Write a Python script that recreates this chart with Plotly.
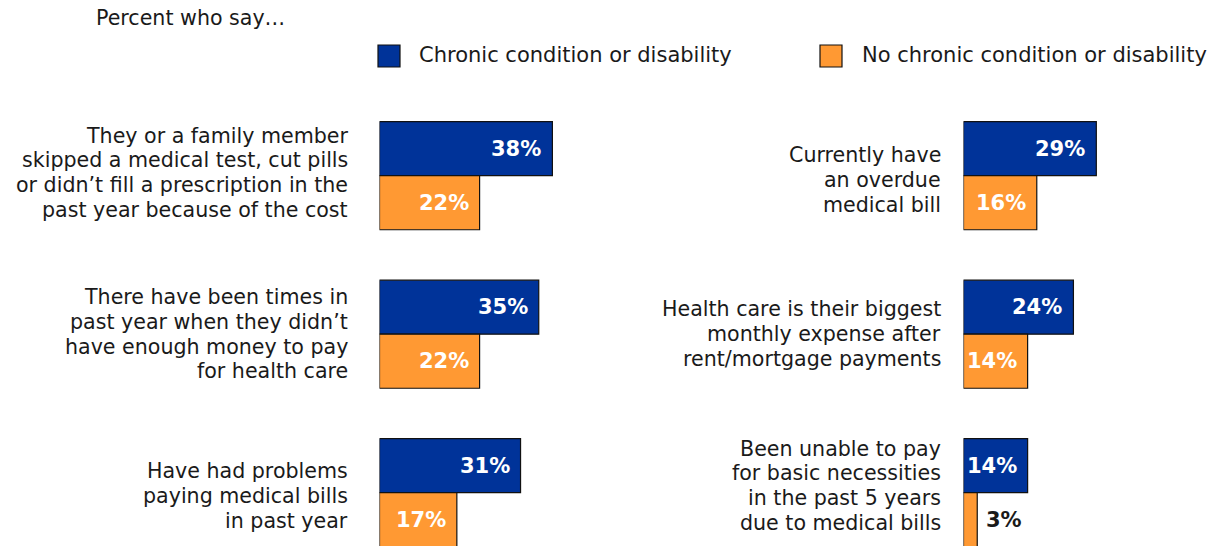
import plotly.graph_objects as go

W, H = 1213, 546

# ---- data -------------------------------------------------------------
series_names = ["Chronic condition or disability", "No chronic condition or disability"]
series_colors = ["#003399", "#FF9933"]

left_labels = [
    "They or a family member\nskipped a medical test, cut pills\nor didn’t fill a prescription in the\npast year because of the cost",
    "There have been times in\npast year when they didn’t\nhave enough money to pay\nfor health care",
    "Have had problems\npaying medical bills\nin past year",
]
left_chronic = [38, 35, 31]
left_none = [22, 22, 17]

right_labels = [
    "Currently have\nan overdue\nmedical bill",
    "Health care is their biggest\nmonthly expense after\nrent/mortgage payments",
    "Been unable to pay\nfor basic necessities\nin the past 5 years\ndue to medical bills",
]
right_chronic = [29, 24, 14]
right_none = [16, 14, 3]

subtitle = "Percent who say…"

# ---- geometry / style -------------------------------------------------
FONT = "DejaVu Sans"
TEXT_COLOR = "#1a1a1a"
BAR_W = 0.341
GROUP_PX = 158.5
FIRST_CENTER_PX = 175.7
LINE_PX = 24.8
LABEL_SIZE = 20.6
VALUE_SIZE = 21

# small vertical nudges (px, positive = down) for each label block
left_label_nudge = [-3, 0, 3]
right_label_nudge = [4, 0, -7]


def px_x(p):
    return p / W


def px_y(p):
    return 1 - p / H


rows = list(range(len(left_labels)))

fig = go.Figure()

panels = [
    ("x", left_chronic, left_none),
    ("x2", right_chronic, right_none),
]
for xa, chronic, none in panels:
    for vals, name, color, offset in [
        (chronic, series_names[0], series_colors[0], -BAR_W),
        (none, series_names[1], series_colors[1], 0.0),
    ]:
        fig.add_trace(go.Bar(
            x=vals, y=rows, orientation="h", name=name,
            xaxis=xa, yaxis="y",
            width=BAR_W, offset=offset,
            marker=dict(color=color, line=dict(color="#111111", width=1.2)),
            showlegend=False, hoverinfo="skip",
        ))

annotations = []

# value labels
for xa, chronic, none in panels:
    for vals, dy in [(chronic, -BAR_W / 2), (none, BAR_W / 2)]:
        for i, v in enumerate(vals):
            inside = v >= 8
            annotations.append(dict(
                x=v, y=i + dy, xref=xa, yref="y",
                text=f"<b>{v}%</b>",
                showarrow=False,
                xanchor="right" if inside else "left",
                xshift=-9 if inside else 7,
                yanchor="middle",
                font=dict(family=FONT, size=VALUE_SIZE,
                          color="white" if inside else TEXT_COLOR),
            ))

# category labels, one annotation per line for tight line spacing
for labels, nudges, right_edge in [(left_labels, left_label_nudge, 350),
                                   (right_labels, right_label_nudge, 943)]:
    for i, (lab, nudge) in enumerate(zip(labels, nudges)):
        lines = lab.split("\n")
        n = len(lines)
        for k, line in enumerate(lines):
            annotations.append(dict(
                x=px_x(right_edge), y=i, xref="paper", yref="y",
                text=line, showarrow=False, align="right",
                xanchor="right", yanchor="middle",
                yshift=-((k - (n - 1) / 2) * LINE_PX + nudge),
                font=dict(family=FONT, size=LABEL_SIZE, color=TEXT_COLOR),
            ))

# subtitle
annotations.append(dict(
    x=px_x(94), y=px_y(18), xref="paper", yref="paper",
    text=subtitle, showarrow=False, xanchor="left", yanchor="middle",
    font=dict(family=FONT, size=20.6, color=TEXT_COLOR),
))

# legend built from swatches + labels
shapes = []
for name, color, sx, tx in [
    (series_names[0], series_colors[0], 378, 417),
    (series_names[1], series_colors[1], 820, 860),
]:
    shapes.append(dict(
        type="rect", xref="paper", yref="paper",
        x0=px_x(sx), x1=px_x(sx + 22), y0=px_y(67), y1=px_y(45),
        fillcolor=color, line=dict(color="#111111", width=1.2),
    ))
    annotations.append(dict(
        x=px_x(tx), y=px_y(55), xref="paper", yref="paper",
        text=name, showarrow=False, xanchor="left", yanchor="middle",
        font=dict(family=FONT, size=21, color=TEXT_COLOR),
    ))

LEFT_X0, LEFT_X1, LEFT_SCALE = 379.5, 900, 4.55
RIGHT_X0, RIGHT_X1, RIGHT_SCALE = 963.5, 1213, 4.58

axis_common = dict(visible=False, showgrid=False, zeroline=False, fixedrange=True)

fig.update_layout(
    width=W, height=H,
    margin=dict(l=0, r=0, t=0, b=0),
    paper_bgcolor="white", plot_bgcolor="white",
    barmode="overlay",
    xaxis=dict(domain=[px_x(LEFT_X0), px_x(LEFT_X1)],
               range=[0, (LEFT_X1 - LEFT_X0) / LEFT_SCALE], anchor="y", **axis_common),
    xaxis2=dict(domain=[px_x(RIGHT_X0), px_x(RIGHT_X1)],
                range=[0, (RIGHT_X1 - RIGHT_X0) / RIGHT_SCALE], anchor="y", **axis_common),
    yaxis=dict(domain=[0, 1],
               range=[(H - FIRST_CENTER_PX) / GROUP_PX, -FIRST_CENTER_PX / GROUP_PX],
               **axis_common),
    annotations=annotations,
    shapes=shapes,
    showlegend=False,
)

fig.write_html("out.html", config={"displayModeBar": False})
